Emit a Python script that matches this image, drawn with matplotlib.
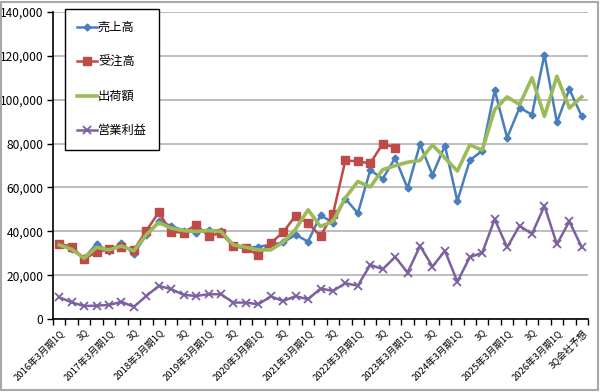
import numpy as np
import matplotlib
matplotlib.use("Agg")
import matplotlib.pyplot as plt
from matplotlib.patches import Rectangle
from matplotlib.ticker import FuncFormatter

plt.rcParams["font.family"] = ["Noto Sans CJK JP", "DejaVu Sans"]

# 43 quarters: 2016年3月期1Q ... 2026年3月期3Q (会社予想)
tick_labels = [
    "2016年3月期1Q", "3Q", "2017年3月期1Q", "3Q", "2018年3月期1Q", "3Q",
    "2019年3月期1Q", "3Q", "2020年3月期1Q", "3Q", "2021年3月期1Q", "3Q",
    "2022年3月期1Q", "3Q", "2023年3月期1Q", "3Q", "2024年3月期1Q", "3Q",
    "2025年3月期1Q", "3Q", "2026年3月期1Q", "3Q会社予想",
]
n_quarters = 43

sales = [34300, 32000, 27700, 34300, 30800, 34600, 29700, 38400, 44500, 42500,
         40300, 39400, 40700, 40200, 33300, 32300, 33000, 33800, 34900, 38400,
         35300, 47300, 44000, 54900, 48200, 67900, 63900, 73500, 59600, 79800,
         65700, 79100, 53800, 72400, 76700, 104300, 82700, 96300, 93200, 120600,
         89700, 104800, 92400]
orders = [34300, 33000, 27400, 30500, 31800, 33000, 31500, 40300, 48600, 39700,
          39400, 42900, 37900, 39100, 33300, 32300, 29100, 34600, 39600, 47100,
          43700, 37800, 47800, 72300, 71900, 71000, 79900, 78200]
shipments = [33800, 31800, 27700, 32700, 31500, 33300, 31100, 38400, 44000, 41400,
             40300, 39900, 40300, 39900, 33800, 32700, 31500, 31500, 35000, 41000,
             49800, 42200, 44500, 55300, 62700, 60200, 68100, 69900, 71500, 72300,
             79400, 73400, 67500, 79400, 77000, 95500, 101300, 97800, 110000, 92400,
             110700, 96200, 101300]
op_profit = [9900, 7600, 5900, 6100, 6400, 7800, 5600, 10500, 15100, 13600,
             11000, 10500, 11300, 11300, 7500, 7500, 6700, 10300, 8200, 10400,
             9000, 13900, 12800, 16300, 15200, 24700, 22700, 28300, 21200, 33300,
             23900, 31100, 17000, 28200, 30200, 45500, 32700, 42500, 38800, 51600,
             34100, 44500, 32700]

fig = plt.figure(figsize=(6.0, 3.92), dpi=100, facecolor="white")
ax = fig.add_axes([53 / 600, 1 - 319 / 392, 535 / 600, 307 / 392])

x_all = np.arange(n_quarters)
ax.plot(x_all, sales, color="#4A7EBB", lw=1.8, marker="D", ms=3.5, label="売上高")
ax.plot(np.arange(len(orders)), orders, color="#BE4B48", lw=1.8, marker="s", ms=5.5, label="受注高")
ax.plot(x_all, shipments, color="#9BBB59", lw=2.6, label="出荷額")
ax.plot(x_all, op_profit, color="#7D60A0", lw=1.8, marker="x", ms=6, mew=1.3, label="営業利益")

ax.set_xlim(-0.5, n_quarters - 0.5)
ax.set_ylim(0, 140000)
ax.set_yticks(np.arange(0, 140001, 20000))
ax.yaxis.set_major_formatter(FuncFormatter(lambda v, p: f"{int(v):,}"))
ax.grid(axis="y", color="#ABABAB", lw=1.1)
ax.set_axisbelow(True)

ax.set_xticks(np.arange(0, n_quarters, 2))
ax.set_xticklabels(tick_labels, rotation=45, ha="right", va="top",
                   rotation_mode="anchor", fontsize=6.8)
ax.set_xticks(np.arange(-0.5, n_quarters), minor=True)
ax.tick_params(axis="x", which="major", length=0, pad=6)
ax.tick_params(axis="x", which="minor", length=4, width=1, direction="out")
ax.tick_params(axis="y", length=4, width=1, labelsize=8.6, pad=3)

for s in ["top", "right"]:
    ax.spines[s].set_visible(False)
for s in ["left", "bottom"]:
    ax.spines[s].set_color("black")
    ax.spines[s].set_linewidth(1.2)

leg = ax.legend(loc="upper left", bbox_to_anchor=(65 / 600, 1 - 9 / 392),
                bbox_transform=fig.transFigure, fontsize=8.8, frameon=True,
                fancybox=False, edgecolor="black", labelspacing=1.75,
                handlelength=1.6, handletextpad=0.1, borderpad=1.0,
                borderaxespad=0, framealpha=1)
leg.get_frame().set_linewidth(1.0)
leg.set_zorder(5)

fig.patches.append(Rectangle((0.002, 0.004), 0.994, 0.992, transform=fig.transFigure,
                             fill=False, edgecolor="#A8A8A8", lw=1.5))

plt.savefig("out.png", dpi=100, facecolor=fig.get_facecolor())
